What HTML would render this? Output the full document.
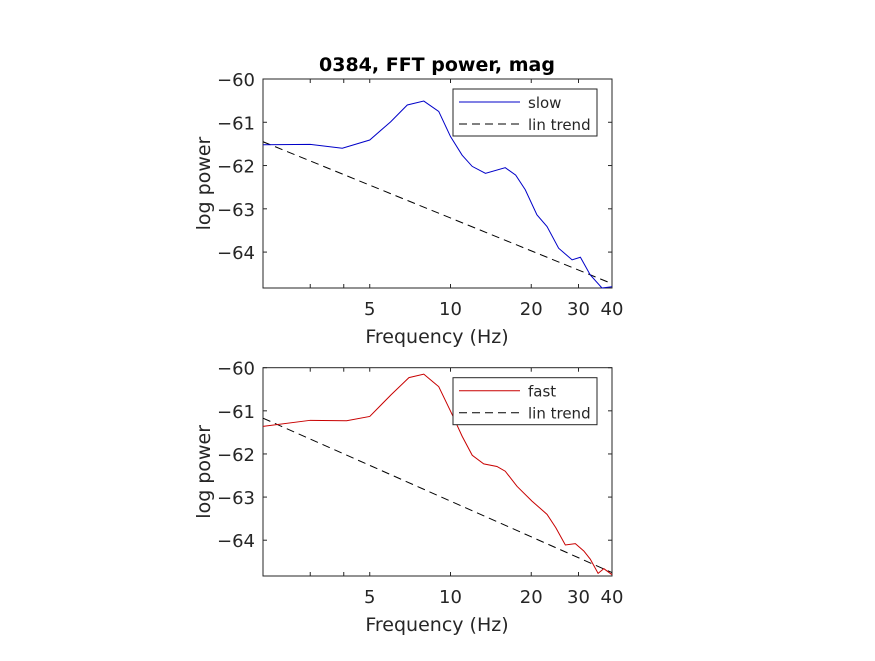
<!DOCTYPE html>
<html><head><meta charset="utf-8"><style>
body{margin:0;background:#fff;}
svg text{font-family:"DejaVu Sans","Liberation Sans",sans-serif;fill:#262626;}
</style></head><body>
<svg id="fig" width="875" height="656" xmlns="http://www.w3.org/2000/svg"></svg>
<script>
const freqsSlow=[2,3,3.95,5,5.98,6.9,7.95,9.04,10,11.05,12.05,13.5,16,17.5,19,21,22.9,25.3,28.4,30.5,33.2,36.7,40];
const powerSlow=[-61.52,-61.51,-61.6,-61.41,-60.99,-60.6,-60.51,-60.75,-61.33,-61.76,-62.02,-62.18,-62.05,-62.22,-62.56,-63.14,-63.41,-63.91,-64.18,-64.12,-64.53,-64.83,-64.8];
const freqsFast=[2,3,4.1,5,6,7,7.95,9.04,10.15,11.05,12.05,13.3,14.9,16,17.7,20.1,22.9,24.7,26.8,29.2,31.4,33.2,35.5,37.3,40];
const powerFast=[-61.36,-61.22,-61.23,-61.13,-60.63,-60.23,-60.15,-60.44,-61.09,-61.59,-62.03,-62.23,-62.29,-62.4,-62.75,-63.09,-63.4,-63.71,-64.11,-64.08,-64.25,-64.44,-64.77,-64.66,-64.8];
const trendSlow=[-61.45,-64.73];
const trendFast=[-61.17,-64.75];
const xTicks=[3,4,5,10,20,30,40];
const xTickLabels=["","","5","10","20","30","40"];
const yTicks=[-60,-61,-62,-63,-64];
const NS="http://www.w3.org/2000/svg";
const svg=document.getElementById('fig');
function mk(t,a,p){const e=document.createElementNS(NS,t);for(const k in a)e.setAttribute(k,a[k]);(p||svg).appendChild(e);return e;}
const L=263,R=612,xmin=2,xmax=40,yTop=-60,yBot=-64.83;
function panel(top,bot,freqs,vals,trend,color,name,title,pfx){
  const g=mk('g',{});
  
  
  const sx=f=>L+(Math.log10(f)-Math.log10(xmin))/(Math.log10(xmax)-Math.log10(xmin))*(R-L);
  const sy=v=>top+(yTop-v)/(yTop-yBot)*(bot-top);
  const ax=mk('rect',{x:L,y:top,width:R-L,height:bot-top,fill:'#fff',stroke:'#262626','stroke-width':1},g);
  
  
  xTicks.forEach((t,i)=>{const x=sx(t);
    mk('line',{x1:x,x2:x,y1:bot,y2:bot-4,stroke:'#262626'},g);
    mk('line',{x1:x,x2:x,y1:top,y2:top+4,stroke:'#262626'},g);
    if(xTickLabels[i]){const tx=mk('text',{x:x,y:bot+27,'text-anchor':'middle','font-size':18},g);tx.textContent=xTickLabels[i];
      
      }
  });
  yTicks.forEach(t=>{const y=sy(t);
    mk('line',{x1:L,x2:L+4,y1:y,y2:y,stroke:'#262626'},g);
    mk('line',{x1:R,x2:R-4,y1:y,y2:y,stroke:'#262626'},g);
    const tx=mk('text',{x:255,y:y+7,'text-anchor':'end','font-size':18},g);tx.textContent='\u2212'+Math.abs(t);
    
    
  });
  const tr=mk('line',{x1:sx(xmin),y1:sy(trend[0]),x2:sx(xmax),y2:sy(trend[1]),stroke:'#000','stroke-dasharray':'8 5','stroke-width':1},g);
  
  
  const pl=mk('polyline',{points:freqs.map((f,i)=>sx(f)+','+sy(vals[i])).join(' '),fill:'none',stroke:color,'stroke-width':1},g);
  
  
  const ly=top+10;
  const lg=mk('g',{},g);
  
  
  mk('rect',{x:453,y:ly,width:144,height:47,fill:'#fff',stroke:'#262626'},lg);
  mk('line',{x1:459,x2:520,y1:ly+13,y2:ly+13,stroke:color},lg);
  mk('line',{x1:459,x2:520,y1:ly+35,y2:ly+35,stroke:'#000','stroke-dasharray':'8 5'},lg);
  const t1=mk('text',{x:528,y:ly+19,'font-size':15},lg);t1.textContent=name;
  const t2=mk('text',{x:528,y:ly+41,'font-size':15},lg);t2.textContent='lin trend';
  const xl=mk('text',{x:437,y:bot+55,'text-anchor':'middle','font-size':19},g);xl.textContent='Frequency (Hz)';
  
  
  const yl=mk('text',{x:0,y:0,'text-anchor':'middle','font-size':19,transform:`translate(210,${(top+bot)/2}) rotate(-90)`},g);yl.textContent='log power';
  
  
  if(title){const tt=mk('text',{x:437,y:71,'text-anchor':'middle','font-size':19,'font-weight':'bold'},g);tt.textContent=title;
    tt.style.fill='#000';
    
    }
}
panel(79,288,freqsSlow,powerSlow,trendSlow,'#0000c8','slow','0384, FFT power, mag','top');
panel(367.7,576,freqsFast,powerFast,trendFast,'#c80000','fast',null,'bottom');
</script>
</body></html>
